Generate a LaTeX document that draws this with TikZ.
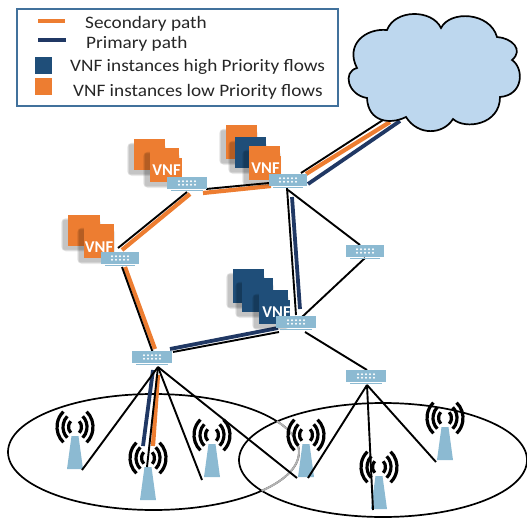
\documentclass[tikz,border=0pt]{standalone}
\usepackage{fontspec}
\setmainfont{Carlito}
\newfontfamily\keyfont[FakeStretch=1.1]{Carlito}
\definecolor{vnforange}{HTML}{ED7D31}
\definecolor{vnfnavy}{HTML}{1F4E79}
\definecolor{pathnavy}{HTML}{203864}
\definecolor{boxblue}{HTML}{41719C}
\definecolor{gearblue}{HTML}{8CBAD2}
\definecolor{cloudblue}{HTML}{BDD7EE}
\tikzset{
	link/.style={black,line width=1.9pt},
	prilink/.style={pathnavy,line width=3.8pt},
	seclink/.style={vnforange,line width=4.2pt},
	vnfbox/.style={draw=none,inner sep=0pt,text=white},
	legendtext/.style={anchor=west,inner sep=0pt,font=\keyfont\fontsize{17.5}{20}\selectfont,text=black!85},
	swatch/.style={inner sep=0pt,minimum width=17pt,minimum height=17pt},
	vnftext/.style={inner sep=0pt,text=white,font=\fontsize{16.5}{18}\selectfont\bfseries},
	wave/.style={black,line width=3.2pt}
}
\begin{document}
\begin{tikzpicture}[x=1pt,y=-1pt]
	\useasboundingbox (0,0) rectangle (527,519);
	\path (434,72) coordinate (wan)
		(75,427) coordinate (t1)
		(148,458) coordinate (t2)
		(212,435) coordinate (t3)
		(306,435) coordinate (t4)
		(379,467) coordinate (t5)
		(445,418) coordinate (t6)
		(153.5,452) coordinate (e1)
		(383,460) coordinate (e2);
	% switches come first, so that the links can name them
	\foreach \x/\y/\w/\n in {120/258/38/swleft, 187/183/40/swtopl, 288/180/37/swtopr, 365/251/38/swright,
		296/322/40/swmid, 152/357/40/swbotl, 366/376/40/swbotr}{
		\node[inner sep=0pt,minimum width=\w pt,minimum height=11pt] (\n) at (\x,\y) {};
	}
	\draw[black,line width=1.7pt] (e1) ellipse [x radius=145.5,y radius=58] (e2) ellipse [x radius=144,y radius=57];
	\draw[black!30,line width=2pt] ([shift={(-32:145.5 and 58)}]e1) arc [start angle=-32,end angle=42,x radius=145.5,y radius=58];
	\foreach \t in {t1,t2,t3,t4,t5,t6}{
		\fill[gearblue] ([shift={(-3.5,9)}]\t) -- ([shift={(3.5,9)}]\t) -- ([shift={(8,42)}]\t) -- ([shift={(-8,42)}]\t) -- cycle;
		\foreach \r/\q in {18/20,12/14,6.5/7.5}{
			\draw[wave] ([shift={(-50:\r\space and \q)}]\t) arc [start angle=-50,end angle=50,x radius=\r,y radius=\q];
			\draw[wave] ([shift={(130:\r\space and \q)}]\t) arc [start angle=130,end angle=230,x radius=\r,y radius=\q];
		}
	}
	\draw[seclink] ([shift={(3,11)}]swtopl.center) -- ([shift={(2,-8)}]swleft.center);
	\draw[link] ([shift={(0,9)}]swtopl.center) -- ([shift={(-2,-10)}]swleft.center);
	\draw[seclink] ([shift={(16,10)}]swtopl.center) -- ([shift={(-17,6)}]swtopr.center);
	\draw[link] ([shift={(19,6)}]swtopl.center) -- ([shift={(-19,3)}]swtopr.center);
	\draw[link] ([shift={(13,-7)}]swtopr.center) -- ([shift={(-51,48)}]wan);
	\draw[seclink] ([shift={(18,-6)}]swtopr.center) -- ([shift={(-44,50)}]wan);
	\draw[prilink] ([shift={(20,4)}]swtopr.center) -- ([shift={(-34,49)}]wan);
	\draw[link] ([shift={(-1,8)}]swtopr.center) -- ([shift={(0,-7)}]swmid.center);
	\draw[prilink] ([shift={(4,17)}]swtopr.center) -- ([shift={(4,-13)}]swmid.center);
	\draw[link] ([shift={(0,10)}]swtopr.center) -- ([shift={(-5,-6)}]swright.center);
	\draw[link] ([shift={(0,7)}]swright.center) -- ([shift={(6,-5)}]swmid.center);
	\draw[link] ([shift={(9,10)}]swmid.center) -- ([shift={(1,-6)}]swbotr.center);
	\draw[prilink] ([shift={(-18,6)}]swmid.center) -- ([shift={(18,-8)}]swbotl.center);
	\draw[link] ([shift={(-17,10)}]swmid.center) -- ([shift={(21,-5)}]swbotl.center);
	\draw[seclink] ([shift={(5,9)}]swleft.center) -- ([shift={(3,-8)}]swbotl.center);
	\draw[link] ([shift={(2,9)}]swleft.center) -- ([shift={(1,-4)}]swbotl.center);
	\draw[prilink] ([shift={(1,13)}]swbotl.center) -- ([shift={(-5,-12)}]t2);
	\draw[seclink] ([shift={(6,18)}]swbotl.center) -- ([shift={(5,-12)}]t2);
	\foreach \t/\a/\b in {t1/7/43, t2/-1/9, t3/-10/45, t4/-9/43}{
		\draw[link] ([shift={(6,10)}]swbotl.center) -- ([shift={(\a,\b)}]\t);
	}
	\foreach \t/\a/\b in {t4/2/43, t5/-6/43, t6/-9/44}{
		\draw[link] ([shift={(1,9)}]swbotr.center) -- ([shift={(\a,\b)}]\t);
	}
	\draw[black,line width=1.7pt,fill=cloudblue] (387,30) .. controls (395,9) and (432,9) .. (441,28)
		.. controls (450,10) and (490,12) .. (497,37)
		.. controls (512,38) and (524,50) .. (512,60)
		.. controls (524,68) and (524,95) .. (500,97)
		.. controls (500,125) and (465,130) .. (453,119)
		.. controls (443,135) and (418,136) .. (406,117)
		.. controls (390,125) and (368,122) .. (367,98)
		.. controls (348,95) and (342,72) .. (357,68)
		.. controls (345,45) and (365,28) .. (387,30) -- cycle;
	\foreach \x/\y/\w/\h/\c/\n in {149.5/154.5/31/31/vnforange/vnfa, 164.5/165/29/34/vnforange/vnfb,
		241.5/142/31/34/vnforange/vnfc, 250.5/152.5/31/31/vnfnavy/vnfd, 264.5/163/31/34/vnforange/vnfe,
		84/230/32/31/vnforange/vnff, 99/241/30/34/vnforange/vnfg,
		248.5/286/31/34/vnfnavy/vnfh, 257.5/295/31/34/vnfnavy/vnfi, 273.5/307/29/34/vnfnavy/vnfj}{
		\foreach \s in {1,...,5}{
			\fill[black,opacity=.05,rounded corners=\s pt] (\x-\w/2-4.5-\s/2,\y-\h/2+6-\s/2) rectangle (\x+\w/2-1.5+\s/2,\y+\h/2+3.5+\s/2);
		}
		\node[vnfbox,fill=\c,minimum width=\w pt,minimum height=\h pt] (\n) at (\x,\y) {};
	}
	\foreach \x/\y/\w/\h/\c in {171/170/22/24/vnforange, 270/168/22/24/vnforange, 104/247/20/22/vnforange, 279/312/22/24/vnfnavy}{
		\fill[\c] (\x-\w/2,\y-\h/2) rectangle (\x+\w/2,\y+\h/2);
	}
	\foreach \n/\a/\b in {vnfb/2/5, vnfe/1/5, vnfg/0/6, vnfj/3/5}{
		\node[vnftext] at ([shift={(\a,\b)}]\n.center) {VNF};
	}
	\foreach \n in {swleft,swtopl,swtopr,swright,swmid,swbotl,swbotr}{
		\fill[gearblue] (\n.north west) rectangle (\n.south east);
		\fill[gearblue] ([shift={(4,1.2)}]\n.south west) rectangle ([shift={(-4,2.6)}]\n.south east);
		\foreach \i in {-8,-4,0,4,8}{
			\fill[white] ([shift={(\i,-1.8)}]\n.center) circle (1.1pt) ([shift={(\i,1.8)}]\n.center) circle (1.1pt);
		}
	}
	\node[draw=boxblue,line width=1.6pt,inner sep=0pt,minimum width=321pt,minimum height=97pt] (legend) at (177.5,57.5) {};
	\draw[seclink] (38,21) -- (65,21);
	\draw[prilink] (38,40) -- (66,40);
	\node[swatch,fill=vnfnavy] (keyhigh) at (43.5,65.5) {};
	\node[swatch,fill=vnforange] (keylow) at (43.5,86.5) {};
	\node[legendtext] (keysec) at (85,24) {Secondary path};
	\node[legendtext] (keypri) at (86,44) {Primary path};
	\node[legendtext] (keyhightext) at (70,67) {VNF instances high Priority flows};
	\node[legendtext] (keylowtext) at (73,92) {VNF instances low Priority flows};
\end{tikzpicture}
\end{document}
